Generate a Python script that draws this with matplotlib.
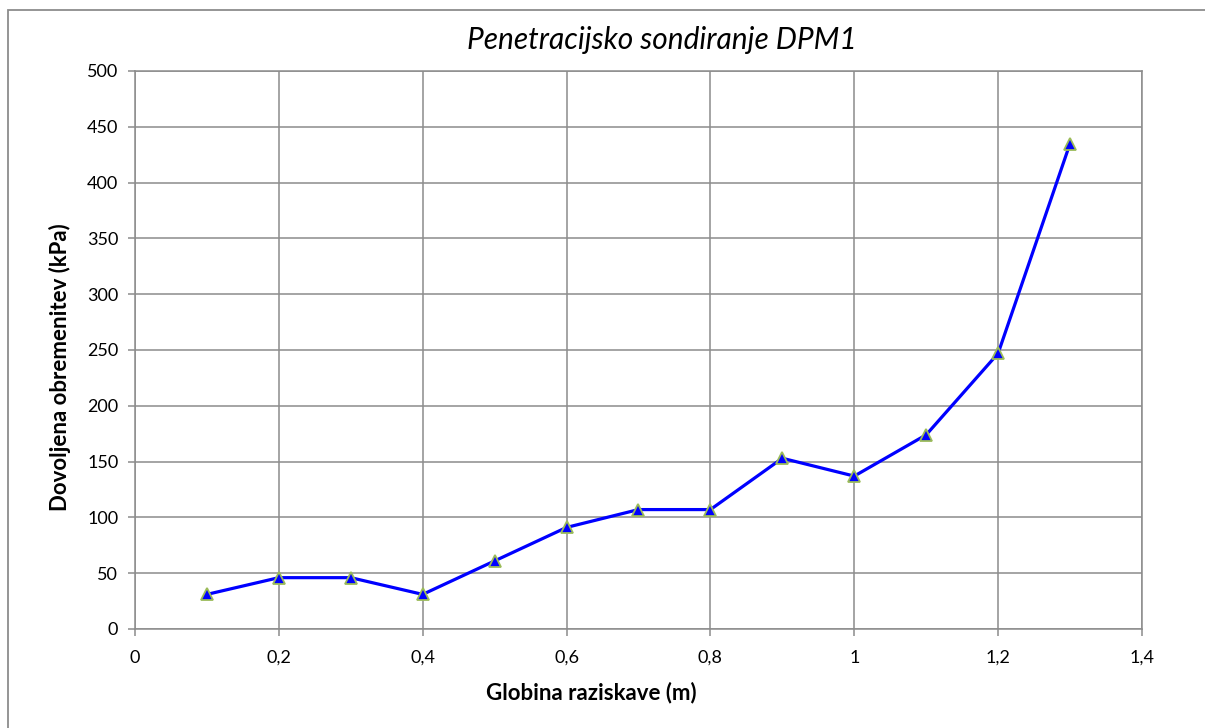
import matplotlib.pyplot as plt
from matplotlib.patches import Rectangle
from matplotlib.ticker import FuncFormatter

# Depth (m) and allowed load (kPa)
depth = [0.1, 0.2, 0.3, 0.4, 0.5, 0.6, 0.7, 0.8, 0.9, 1.0, 1.1, 1.2, 1.3]
load = [31, 46, 46, 31, 61, 91, 107, 107, 153, 137, 174, 247, 435]

x_ticks = [0, 0.2, 0.4, 0.6, 0.8, 1.0, 1.2, 1.4]
y_ticks = list(range(0, 501, 50))

plt.rcParams['font.family'] = ['Lato', 'DejaVu Sans']

W, H = 1205, 728
fig = plt.figure(figsize=(W / 100, H / 100), dpi=100)
ax = fig.add_axes([0.112, 0.136, 0.8357, 0.7665])

# outer chart border
fig.patches.append(Rectangle((8 / W, -0.05), 1.2, (H - 10) / H + 0.05,
                             transform=fig.transFigure, fill=False,
                             edgecolor='#8c8c8c', linewidth=1.3))

ax.plot(depth, load, color='#0000ff', linewidth=2.3, marker='^',
        markersize=9, markerfacecolor='#0000ff', markeredgecolor='#9bbb59',
        markeredgewidth=1.3, zorder=3)

ax.set_xlim(0, 1.4)
ax.set_ylim(0, 500)
ax.set_xticks(x_ticks)
ax.set_yticks(y_ticks)
ax.xaxis.set_major_formatter(FuncFormatter(lambda v, p: f'{v:g}'.replace('.', ',')))
ax.grid(True, color='#8c8c8c', linewidth=1.1)
ax.set_axisbelow(True)
for s in ax.spines.values():
    s.set_color('#8c8c8c')
    s.set_linewidth(1.1)
ax.tick_params(colors='#8c8c8c', labelcolor='black', labelsize=13, length=5,
               width=1.1)
ax.tick_params(axis='x', pad=10)
ax.tick_params(axis='y', pad=7)

# title and axis labels sit a bit off-centre in the original
fig.text(662 / W, 1 - 40 / H, 'Penetracijsko sondiranje DPM1', fontsize=21.5,
         style='italic', ha='center', va='center')
ax.set_xlabel('Globina raziskave (m)', fontsize=16, fontweight='bold', va='center')
ax.xaxis.set_label_coords((591 - 135) / 1007, (629 - 693) / 558)
ax.set_ylabel('Dovoljena obremenitev (kPa)', fontsize=16, fontweight='bold', va='center')
ax.yaxis.set_label_coords((60 - 135) / 1007, (629 - 367) / 558)

fig.savefig('out.png', dpi=100)
